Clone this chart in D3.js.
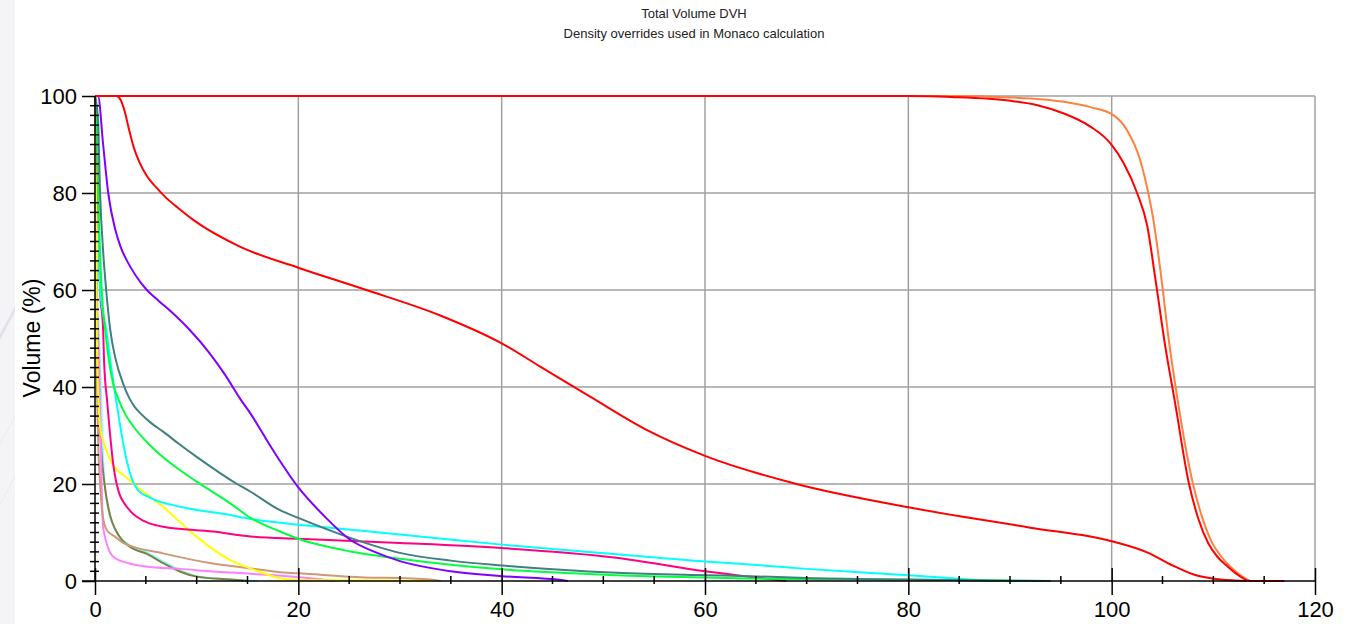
<!DOCTYPE html>
<html>
<head>
<meta charset="utf-8">
<script src="https://cdn.jsdelivr.net/npm/d3@7"></script>
<style>
  body { margin: 0; background: #fff; }
  text { font-family: "Liberation Sans", Arial, sans-serif; }
</style>
</head>
<body>
<div class="dvh_area"></div>
<script>
var titleText = "Total Volume DVH",
    subtitleText = "Density overrides used in Monaco calculation",
    yLabel = "Volume (%)";

var xTicks = [0, 20, 40, 60, 80, 100, 120],
    yTicks = [0, 20, 40, 60, 80, 100];

// dose (x) / volume % (y) pairs
var tealLtCurve = [[0,100],[0.1,70],[0.5,44.9],[0.8,25],[1.2,16],[2.0,10.5],[3.4,7.4],[5.1,5.9],[6.7,4.0],[8.4,2.2],[10,1.0],[13.3,0.3],[16,0]];
var oliveCurve = [[0,100],[0.1,70],[0.5,31.5],[1.0,19],[1.4,14.3],[2.3,9.5],[3.4,7.1],[5.1,5.6],[6.7,3.7],[8.4,1.9],[10,0.9],[13.3,0.3],[15,0]];
var violetCurve = [[0,100],[0.05,70],[0.4,44.9],[0.8,11],[1.8,5.0],[3.4,3.6],[5,3.0],[8.4,2.5],[12,1.9],[15.3,1.5],[20,0.8],[23.5,0]];
var tanCurve = [[0,100],[0.1,60],[0.3,30],[0.5,20],[0.8,13],[1.15,10.5],[2.0,9.1],[2.8,7.8],[6.7,5.7],[11.6,3.6],[15.3,2.6],[18.2,1.8],[20,1.6],[25,0.9],[33,0.3],[34,0]];
var yellowCurve = [[0,100],[0.1,80],[0.16,51.8],[0.5,31.8],[0.8,29],[1.5,25],[3.4,20.8],[6.7,15.3],[10,9.1],[13.3,4.3],[15,2.8],[16.6,1.6],[18.2,0.55],[20,0.2],[33,0]];
var pinkCurve = [[0,100],[0.2,90],[0.5,60],[0.8,51.8],[0.9,45],[1.2,37],[1.8,24],[2.5,17.4],[2.8,16.3],[4,13.4],[6.7,11.2],[11.6,10.2],[15.3,9.2],[20,8.7],[30,7.85],[40,6.8],[51.3,4.8],[60,2.0],[63.1,1.2],[68,0]];
var cyanCurve = [[0,100],[0.2,95],[0.5,60],[1.1,51.8],[1.6,44],[2.1,37],[2.6,30.5],[3.1,25],[3.6,21.2],[4.2,18.8],[5.4,17.2],[8.4,15.3],[13.3,13.6],[15.3,12.8],[18.2,12],[20,11.6],[30,9.6],[40,7.5],[51.3,5.5],[60,4.0],[64.4,3.4],[70,2.5],[80,1.2],[88.2,0]];
var greenCurve = [[0,100],[0.2,95],[0.33,80],[0.66,60],[1.0,51.8],[1.8,40.5],[2.3,37.5],[3,34.3],[3.8,31.8],[4.8,29.3],[6.1,26.6],[8,23.4],[10,20.5],[13.3,16],[15.3,13],[18.2,10.2],[20,8.7],[25.1,6.1],[30,4.6],[40,2.4],[51.3,1.2],[60,0.7],[64.4,0.5],[77,0.3],[94,0]];
var tealCurve = [[0,100],[0.3,95],[0.5,80],[0.8,68],[1.1,60],[1.5,51.8],[2.0,46],[2.8,40.5],[3.4,37.6],[3.9,35.9],[4.5,34.5],[5.5,32.6],[6.7,30.8],[8.3,28.2],[10,25.6],[13.9,20.1],[15.3,18.4],[18.2,14.6],[20,13.0],[25.1,8.9],[30,5.8],[35,4.2],[40,3.2],[51.3,1.7],[60,1.2],[64.4,1.0],[70,0.6],[80,0.3],[94,0]];
var purpleCurve = [[0,100],[0.3,100],[0.8,90],[1.3,80],[2.0,72.4],[2.5,69],[3.1,66.2],[4,63],[5.1,60],[6.3,57.7],[7.5,55.5],[9.3,51.8],[11.3,46.9],[12.8,42.5],[14.3,37.5],[15.3,34.5],[17.5,27],[20,19.3],[22.5,13.5],[25.1,8.5],[27.5,6],[30,4.1],[35,2.0],[40,1.0],[45.9,0.2],[46.5,0]];
var bodyCurve = [[0,100],[2.1,100],[2.5,99.3],[2.9,97],[3.3,93.5],[3.8,89.5],[4.4,86.2],[5.1,83.5],[6,81.2],[7,79],[8.3,76.7],[9.7,74.4],[14.3,68.9],[20,64.6],[26.7,60],[33.9,54.8],[40,49],[43.8,44.2],[48.7,38],[54.3,31.1],[60,25.8],[69,20],[80,15.2],[92,11],[100,8.2],[103.6,5.8],[105.8,3.4],[108,1.4],[110.7,0.3],[113.3,0]];
var orangeCurve = [[0,100],[84,100],[90.1,99.7],[95.3,98.8],[97.9,97.7],[100.2,96.0],[101.5,93.0],[102.8,86.8],[103.6,80],[104.1,74.5],[104.9,62.3],[105.6,50],[106.5,37.2],[108,20],[109,12.5],[109.9,7.8],[110.8,5],[111.6,3.1],[112.6,1.3],[113.6,0]];
var ptvCurve = [[0,100],[80,100],[84.2,99.8],[90.1,99.0],[92.7,98.1],[95.3,96.4],[97.9,93.7],[99.9,90.2],[101.2,86.1],[102.5,80],[103.5,73.2],[104.3,62.3],[105.3,48],[106.2,37.2],[107.6,20.1],[108.5,13],[109.5,7.8],[110.4,5],[111.4,3.0],[112.4,1.3],[113.6,0],[117,0]];

var series = [
  {pts: tealLtCurve, color: "#80ffff"},
  {pts: oliveCurve, color: "#808040"},
  {pts: violetCurve, color: "#ff80ff"},
  {pts: tanCurve, color: "#d09878"},
  {pts: yellowCurve, color: "#ffff00"},
  {pts: pinkCurve, color: "#ff0080"},
  {pts: cyanCurve, color: "#00ffff"},
  {pts: greenCurve, color: "#00ff40"},
  {pts: tealCurve, color: "#408080"},
  {pts: purpleCurve, color: "#8000ff"},
  {pts: bodyCurve, color: "#ff0000"},
  {pts: orangeCurve, color: "#ff8040"},
  {pts: ptvCurve, color: "#ff0000"}
];

var W = 1355, H = 624;
var margin = {top: 96, right: 40, bottom: 43, left: 95},
    width = W - margin.left - margin.right,
    height = H - margin.top - margin.bottom;

var svg0 = d3.select(".dvh_area")
  .append("svg")
  .attr("width", W)
  .attr("height", H);

// faint watermark strip on the left edge
svg0.append("rect").attr("x", 0).attr("y", 0).attr("width", 15).attr("height", H).style("fill", "#f4f4f7");
[[340, 300], [445, 410], [505, 470]].forEach(function(b) {
  svg0.append("polygon")
    .attr("points", "0," + b[0] + " 15," + (b[0] - 28) + " 15," + (b[1] - 28 + 34) + " 0," + (b[1] + 34))
    .style("fill", "#e6dfec");
});

svg0.append("text").attr("x", 694).attr("y", 18).attr("text-anchor", "middle")
  .style("font-size", "13px").style("fill", "#222").text(titleText);
svg0.append("text").attr("x", 694).attr("y", 38).attr("text-anchor", "middle")
  .style("font-size", "13px").style("fill", "#222").text(subtitleText);

var svg = svg0.append("g")
  .attr("transform", "translate(" + margin.left + "," + margin.top + ")");

var x = d3.scaleLinear().domain([0, 120]).range([0, width]);
var y = d3.scaleLinear().domain([0, 100]).range([height, 0]);

// grid
svg.selectAll(".vgrid").data(xTicks.filter(function(d) { return d > 0; }))
  .enter().append("line")
  .attr("x1", function(d) { return x(d); }).attr("x2", function(d) { return x(d); })
  .attr("y1", 0).attr("y2", height)
  .style("stroke", "#a0a0a0").style("stroke-width", 1.5);
svg.selectAll(".hgrid").data(yTicks.filter(function(d) { return d > 0; }))
  .enter().append("line")
  .attr("x1", 0).attr("x2", width)
  .attr("y1", function(d) { return y(d); }).attr("y2", function(d) { return y(d); })
  .style("stroke", "#a0a0a0").style("stroke-width", 1.5);

// curves
var line = d3.line()
  .x(function(d) { return x(d[0]); })
  .y(function(d) { return y(d[1]); })
  .curve(d3.curveMonotoneX);

svg.selectAll(".dvh")
  .data(series)
  .enter()
  .append("path")
    .attr("d", function(d) { return line(d.pts); })
    .style("fill", "none")
    .style("stroke", function(d) { return d.color; })
    .style("stroke-width", 2);

// axes
var xAxis = svg.append("g")
  .attr("transform", "translate(0," + height + ")")
  .call(d3.axisBottom(x).tickValues(xTicks).tickSize(14).tickPadding(6).tickFormat(d3.format("d")));
xAxis.select(".domain").attr("d", "M-13,0H" + width).style("stroke-width", 1.5);
xAxis.selectAll(".tick line").attr("y1", -13).style("stroke-width", 1.5);
xAxis.selectAll(".tick text").style("font-size", "22px").style("fill", "#000");

var xMinor = d3.range(5, 120, 5).filter(function(d) { return d % 20 !== 0; });
xAxis.selectAll(".minor").data(xMinor).enter().append("line")
  .attr("x1", function(d) { return x(d); }).attr("x2", function(d) { return x(d); })
  .attr("y1", -5).attr("y2", 3)
  .style("stroke", "#000").style("stroke-width", 1.5);

var yAxis = svg.append("g")
  .call(d3.axisLeft(y).tickValues(yTicks).tickSize(13).tickPadding(5).tickFormat(d3.format("d")));
yAxis.select(".domain").attr("d", "M0,0V" + height).style("stroke-width", 1.5);
yAxis.selectAll(".tick line").style("stroke-width", 1.5);
yAxis.selectAll(".tick text").style("font-size", "22px").style("fill", "#000");

var yMinor = d3.range(2, 100, 2).filter(function(d) { return d % 20 !== 0; });
yAxis.selectAll(".minor").data(yMinor).enter().append("line")
  .attr("x1", -5).attr("x2", 4)
  .attr("y1", function(d) { return y(d); }).attr("y2", function(d) { return y(d); })
  .style("stroke", "#000").style("stroke-width", 1.5);

svg0.append("text")
  .attr("transform", "translate(40," + 338 + ") rotate(-90)")
  .attr("text-anchor", "middle")
  .style("font-size", "23px").style("fill", "#000")
  .text(yLabel);
</script>
</body>
</html>
